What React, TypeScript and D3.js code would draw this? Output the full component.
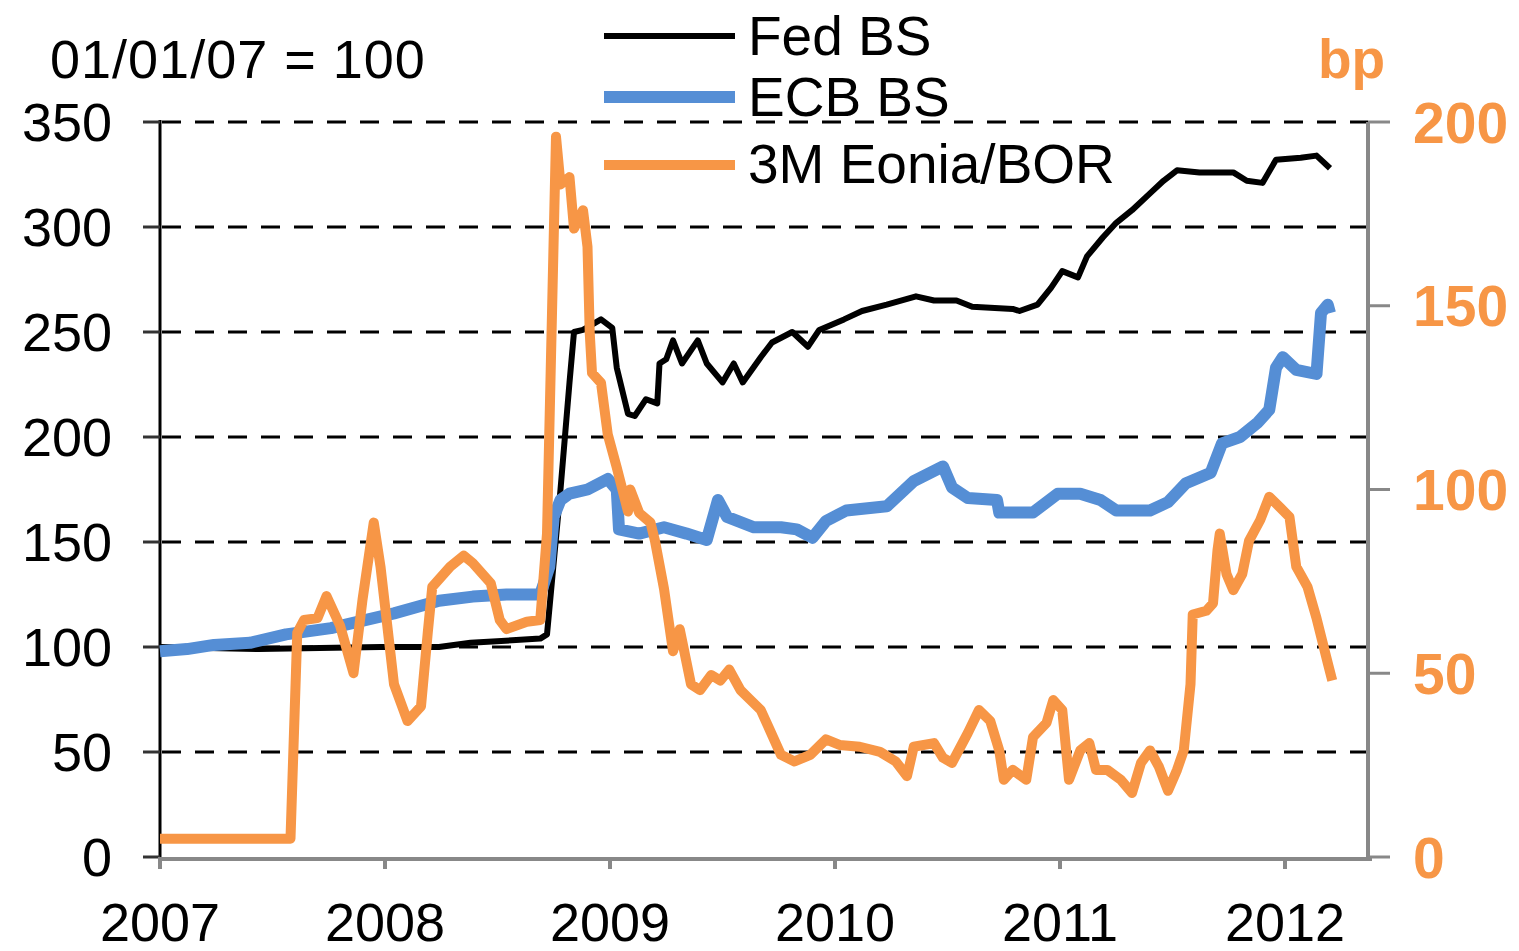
import React from "react";
import * as d3 from "d3";

// decimal years
const fedT = [2007.0, 2007.44, 2007.98, 2008.24, 2008.38, 2008.69, 2008.72, 2008.78, 2008.82, 2008.84, 2008.88, 2008.96, 2009.01, 2009.03, 2009.08, 2009.11, 2009.16, 2009.21, 2009.22, 2009.25, 2009.28, 2009.32, 2009.39, 2009.43, 2009.5, 2009.55, 2009.59, 2009.67, 2009.72, 2009.81, 2009.88, 2009.93, 2010.04, 2010.12, 2010.23, 2010.36, 2010.44, 2010.54, 2010.61, 2010.79, 2010.82, 2010.9, 2010.96, 2011.01, 2011.08, 2011.12, 2011.19, 2011.25, 2011.32, 2011.4, 2011.46, 2011.52, 2011.62, 2011.77, 2011.83, 2011.9, 2011.96, 2012.07, 2012.14, 2012.2];
const fedV = [100, 99, 100, 100, 102, 104, 106, 175, 226, 250, 251, 256, 252, 233, 211, 210, 218, 216, 235, 237, 246, 235, 246, 235, 226, 235, 226, 238, 245, 250, 243, 251, 256, 260, 263, 267, 265, 265, 262, 261, 260, 263, 271, 279, 276, 286, 295, 302, 308, 316, 322, 327, 326, 326, 322, 321, 332, 333, 334, 328];

const ecbT = [2007.0, 2007.12, 2007.24, 2007.4, 2007.56, 2007.76, 2007.84, 2008.04, 2008.24, 2008.39, 2008.54, 2008.69, 2008.73, 2008.75, 2008.78, 2008.82, 2008.9, 2008.99, 2009.03, 2009.04, 2009.13, 2009.24, 2009.34, 2009.43, 2009.48, 2009.52, 2009.64, 2009.76, 2009.83, 2009.9, 2009.96, 2010.05, 2010.23, 2010.35, 2010.48, 2010.52, 2010.59, 2010.72, 2010.73, 2010.88, 2010.99, 2011.09, 2011.18, 2011.25, 2011.4, 2011.48, 2011.56, 2011.67, 2011.72, 2011.8, 2011.88, 2011.93, 2011.96, 2011.99, 2012.05, 2012.14, 2012.16, 2012.19, 2012.2];
const ecbV = [98, 99, 101, 102, 106, 109, 111, 116, 122, 124, 125, 125, 138, 162, 170, 173, 175, 180, 175, 156, 154, 157, 154, 151, 170, 162, 157, 157, 156, 152, 160, 165, 167, 179, 186, 176, 171, 170, 164, 164, 173, 173, 170, 165, 165, 169, 178, 183, 197, 200, 207, 213, 233, 238, 232, 230, 259, 263, 259];

const eonT = [2007.0, 2007.58, 2007.61, 2007.64, 2007.7, 2007.74, 2007.8, 2007.86, 2007.9, 2007.95, 2007.98, 2008.04, 2008.1, 2008.16, 2008.19, 2008.21, 2008.29, 2008.35, 2008.39, 2008.47, 2008.51, 2008.54, 2008.63, 2008.69, 2008.72, 2008.76, 2008.78, 2008.82, 2008.84, 2008.88, 2008.9, 2008.91, 2008.92, 2008.96, 2008.99, 2009.03, 2009.08, 2009.09, 2009.13, 2009.18, 2009.2, 2009.24, 2009.28, 2009.31, 2009.36, 2009.4, 2009.45, 2009.49, 2009.53, 2009.58, 2009.62, 2009.67, 2009.71, 2009.76, 2009.82, 2009.89, 2009.96, 2010.02, 2010.11, 2010.2, 2010.27, 2010.32, 2010.35, 2010.44, 2010.48, 2010.52, 2010.59, 2010.64, 2010.69, 2010.73, 2010.75, 2010.79, 2010.85, 2010.88, 2010.94, 2010.97, 2011.01, 2011.04, 2011.09, 2011.13, 2011.16, 2011.21, 2011.27, 2011.32, 2011.36, 2011.4, 2011.44, 2011.48, 2011.52, 2011.55, 2011.58, 2011.59, 2011.65, 2011.68, 2011.7, 2011.71, 2011.74, 2011.77, 2011.81, 2011.84, 2011.89, 2011.93, 2011.98, 2012.02, 2012.05, 2012.1, 2012.14, 2012.19, 2012.21];
const eonV = [5, 5, 61, 64.5, 65, 71, 63, 50, 70, 91, 79, 47, 37, 41, 61, 73.5, 79, 82, 80, 74.5, 64.5, 62, 64, 64.5, 88, 196, 183, 185, 171, 176, 166, 142.5, 131.7, 129, 115, 106, 94, 100, 93.6, 91, 86, 73, 56, 62, 47, 45.4, 49.5, 48, 51, 45.4, 43, 40, 34.6, 27.8, 26, 27.8, 32, 30.5, 30, 28.6, 26, 22, 30, 31, 27, 25.6, 33.7, 40, 37, 29, 21, 23.7, 21, 32.6, 36.5, 42.7, 40, 21, 29, 31, 23.7, 23.7, 21, 17.4, 25.6, 29, 24.5, 18, 23.7, 29, 47, 66, 67, 69, 83.5, 88, 77, 72.6, 77, 86, 91.7, 98, 95, 92.5, 79, 73.5, 65, 52.8, 48];

const yearTicks = [2007, 2008, 2009, 2010, 2011, 2012];
const leftTicks = [0, 50, 100, 150, 200, 250, 300, 350];
const rightTicks = [0, 50, 100, 150, 200];
const legendItems = ["Fed BS", "ECB BS", "3M Eonia/BOR"];

const BLACK = "#000000";
const BLUE = "#558ED5";
const ORANGE = "#F79646";
const GREY = "#888888";
const FONT = "'Liberation Sans', Arial, sans-serif";

export default function App() {
  const x = d3.scaleLinear().domain([2007, 2007 + 1210 / 225]).range([160, 1370]);
  const yL = d3.scaleLinear().domain([0, 350]).range([857, 122]);
  const yR = d3.scaleLinear().domain([0, 200]).range([857, 122]);

  const lineL = d3.line<[number, number]>().x((d) => x(d[0])).y((d) => yL(d[1]));
  const lineR = d3.line<[number, number]>().x((d) => x(d[0])).y((d) => yR(d[1]));

  const fed = lineL(fedT.map((t, i) => [t, fedV[i]]))!;
  const ecb = lineL(ecbT.map((t, i) => [t, ecbV[i]]))!;
  const eon = lineR(eonT.map((t, i) => [t, eonV[i]]))!;

  const legendColors = [BLACK, BLUE, ORANGE];
  const legendWidths = [6, 12, 10];
  const legendLineY = [36, 97, 165];
  const legendTextY = [55, 116, 183];

  return (
    <svg
      width={1519}
      height={951}
      style={{ position: "absolute", left: 0, top: 0, background: "#fff" }}
      fontFamily={FONT}
    >
      <rect x={0} y={0} width={1519} height={951} fill="#fff" />
      {/* gridlines */}
      {leftTicks.filter((t) => t > 0).map((t) => (
        <line key={t} x1={162} x2={1368} y1={yL(t)} y2={yL(t)} stroke={BLACK} strokeWidth={3} strokeDasharray="19 14" />
      ))}
      {/* left axis */}
      <line x1={160} x2={160} y1={120} y2={859} stroke={BLACK} strokeWidth={3} />
      {leftTicks.map((t) => (
        <line key={t} x1={143} x2={160} y1={yL(t)} y2={yL(t)} stroke="#333" strokeWidth={3} />
      ))}
      {leftTicks.map((t) => (
        <text key={t} x={112} y={yL(t)} dy="0.36em" textAnchor="end" fontSize={54} fill={BLACK}>
          {t}
        </text>
      ))}
      {/* x axis */}
      <line x1={158} x2={1372} y1={859} y2={859} stroke={GREY} strokeWidth={4} />
      {yearTicks.map((t) => (
        <line key={t} x1={x(t)} x2={x(t)} y1={859} y2={869} stroke={GREY} strokeWidth={4} />
      ))}
      {yearTicks.map((t) => (
        <text key={t} x={x(t)} y={941} textAnchor="middle" fontSize={54} fill={BLACK}>
          {t}
        </text>
      ))}
      {/* right axis */}
      <line x1={1368} x2={1368} y1={122} y2={861} stroke={GREY} strokeWidth={4} />
      {rightTicks.map((t) => (
        <line key={t} x1={1368} x2={1390} y1={yR(t)} y2={yR(t)} stroke={GREY} strokeWidth={3} />
      ))}
      {rightTicks.map((t) => (
        <text key={t} x={1413} y={yR(t)} dy="0.36em" textAnchor="start" fontSize={57} fontWeight="bold" fill={ORANGE}>
          {t}
        </text>
      ))}
      <text x={1318} y={78} fontSize={55} fontWeight="bold" fill={ORANGE}>bp</text>
      <text x={50} y={78} fontSize={54} fill={BLACK} letterSpacing={1}>01/01/07 = 100</text>

      {/* series */}
      <path d={fed} fill="none" stroke={BLACK} strokeWidth={6} strokeLinejoin="round" />
      <path d={ecb} fill="none" stroke={BLUE} strokeWidth={12} strokeLinejoin="round" />
      <path d={eon} fill="none" stroke={ORANGE} strokeWidth={10} strokeLinejoin="round" />

      {/* legend */}
      {legendItems.map((name, i) => (
        <g key={name}>
          <line x1={604} x2={735} y1={legendLineY[i]} y2={legendLineY[i]} stroke={legendColors[i]} strokeWidth={legendWidths[i]} />
          <text x={748} y={legendTextY[i]} fontSize={55} fill={BLACK}>{name}</text>
        </g>
      ))}
    </svg>
  );
}
